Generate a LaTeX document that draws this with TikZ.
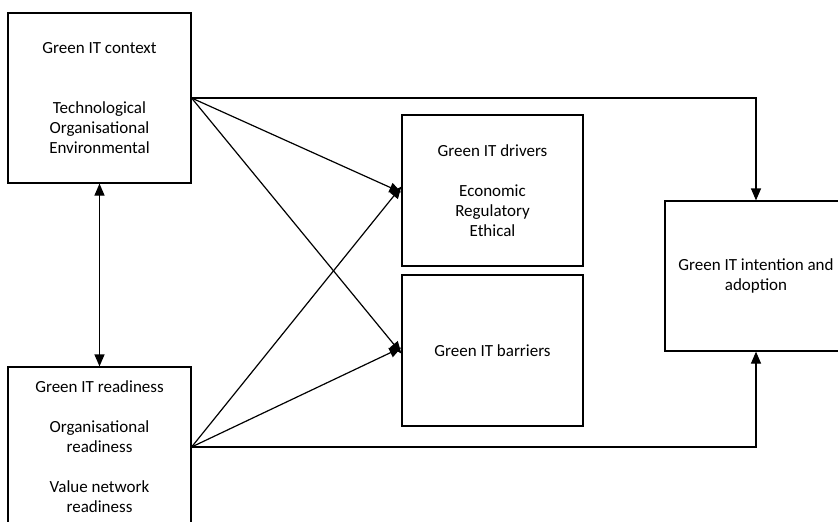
\documentclass[tikz,border=0pt]{standalone}
\usepackage{fontspec}
\setmainfont{Carlito}
\usetikzlibrary{arrows.meta,positioning}

\tikzset{
  box/.style={draw, line width=1.2pt, inner sep=0pt, align=center,
    font=\fontsize{17}{20}\selectfont},
  link/.style={line width=1.2pt, -{Triangle[length=12pt,width=10pt]}}
}

\begin{document}
\begin{tikzpicture}[x=1pt,y=-1pt]

\useasboundingbox (0,0) rectangle (838,522);
\clip (0,0) rectangle (838,522);

\node[box, minimum width=183, minimum height=170] (ctx) at (99.5,98)
  {Green IT context\\[40pt]Technological\\Organisational\\Environmental};
\node[box, minimum width=183, minimum height=160] (rdy) at (99.5,447)
  {Green IT readiness\\[20pt]Organisational\\readiness\\[20pt]Value network\\readiness};

\node[box, minimum width=181, minimum height=151] (drv) at (492.5,190.5)
  {Green IT drivers\\[20pt]Economic\\Regulatory\\Ethical};
\node[box, minimum width=181, minimum height=151] (bar) at (492.5,350.5)
  {Green IT barriers};

\node[box, minimum width=182, minimum height=150] (int) at (756,276)
  {Green IT intention and\\adoption};

% context <-> readiness
\draw[link, {Triangle[length=12pt,width=10pt]}-{Triangle[length=12pt,width=10pt]}] (ctx) -- (rdy);

% to drivers and barriers
\draw[link] (ctx.east) -- ([yshift=-2]drv.west);
\draw[link] (ctx.east) -- ([yshift=-3]bar.west);
\draw[link] (rdy.east) -- ([yshift=4]drv.west);
\draw[link] (rdy.east) -- ([yshift=3]bar.west);

% to intention
\draw[link] (ctx.east) -| (int.north);
\draw[link] (rdy.east) -| (int.south);

\end{tikzpicture}
\end{document}
